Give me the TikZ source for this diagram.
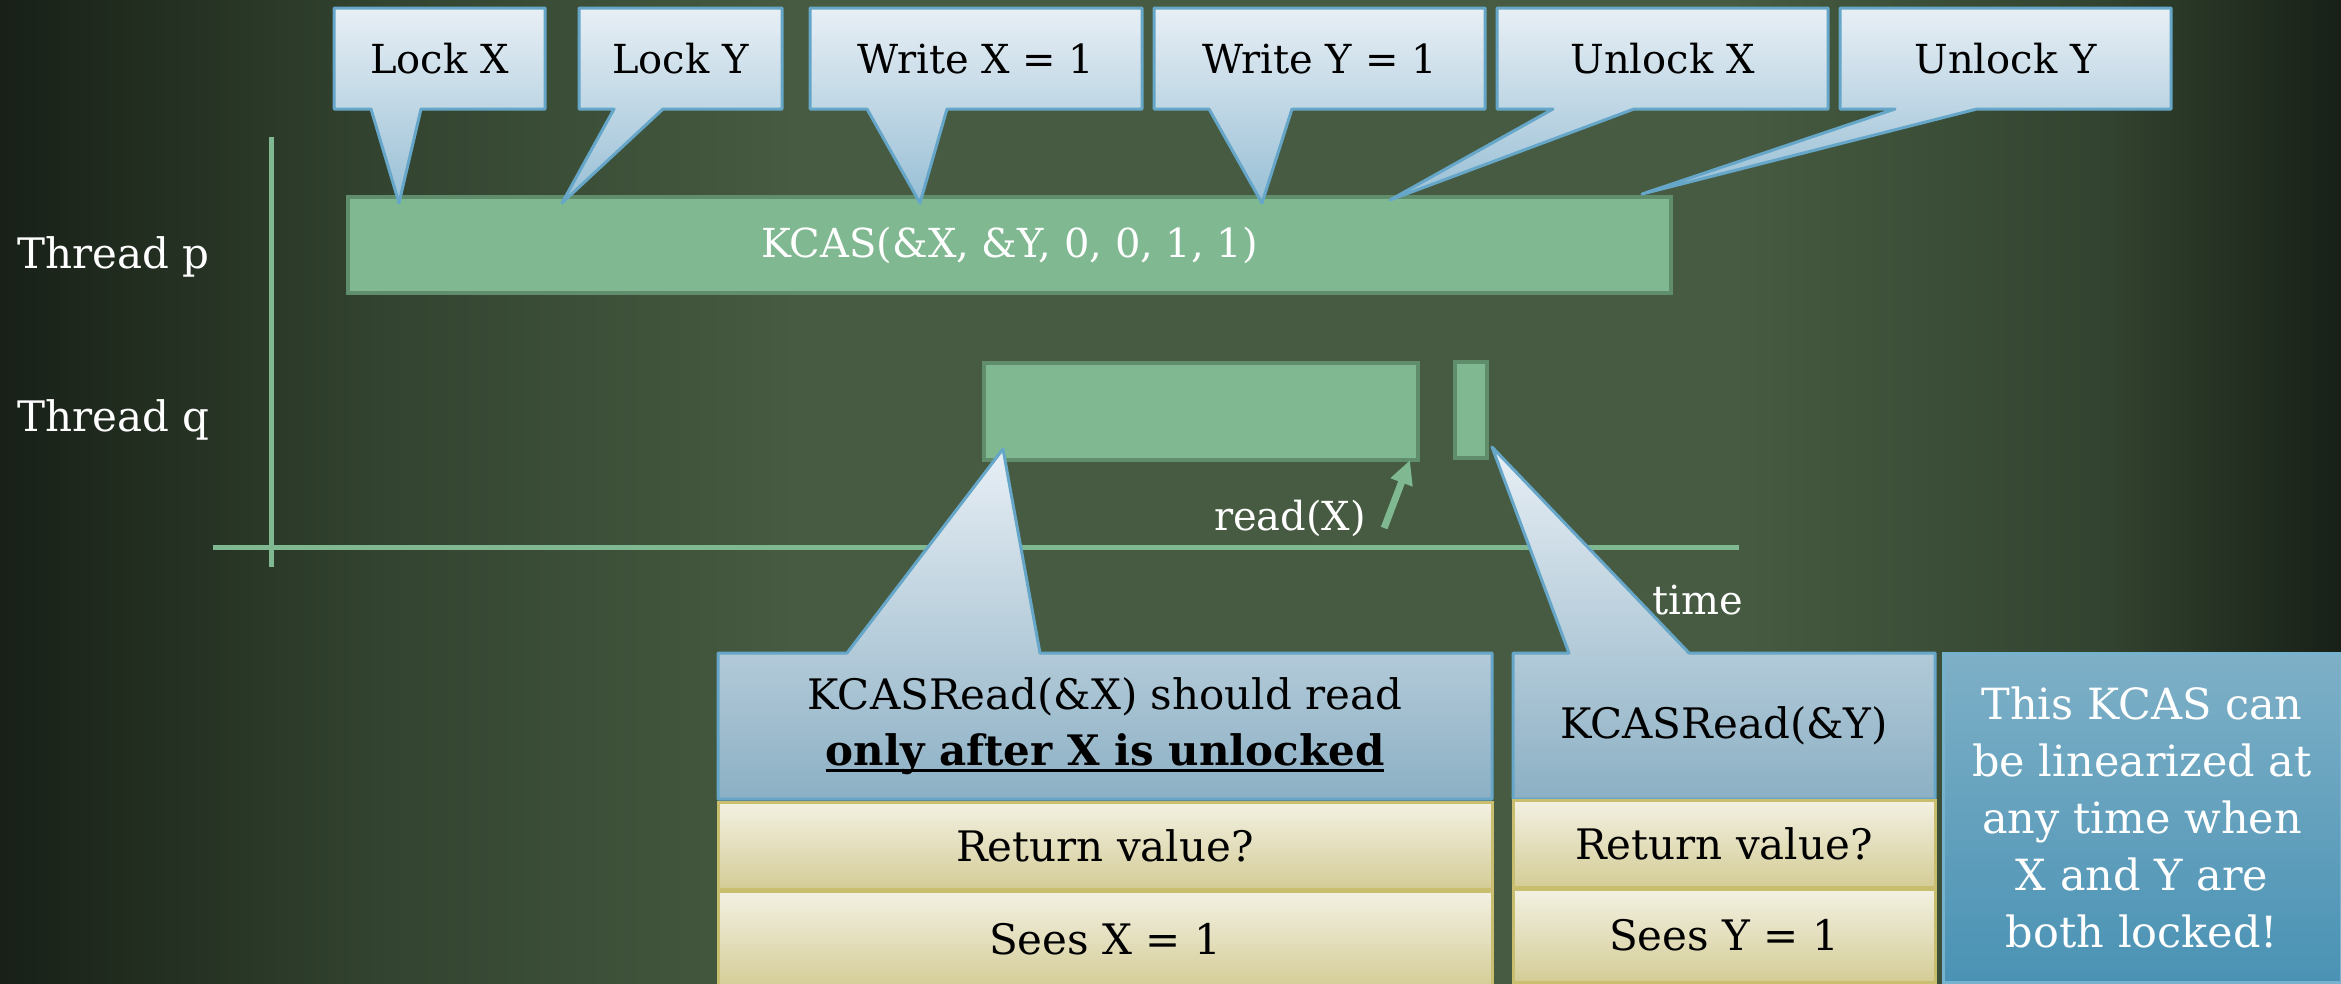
\documentclass[tikz,border=0pt]{standalone}
\usepackage{fontspec}
\setmainfont{DejaVu Serif}
\usetikzlibrary{positioning,arrows.meta,calc,backgrounds}

\definecolor{bgedge}{RGB}{24,32,23}
\definecolor{bgside}{RGB}{50,67,47}
\definecolor{bgmid}{RGB}{70,91,65}
\definecolor{barfill}{RGB}{128,185,145}
\definecolor{barline}{RGB}{96,142,108}
\definecolor{calltop}{RGB}{232,239,245}
\definecolor{callbot}{RGB}{152,191,213}
\definecolor{callline}{RGB}{102,166,200}
\definecolor{rowtop}{RGB}{243,241,227}
\definecolor{rowbot}{RGB}{212,204,150}
\definecolor{rowline}{RGB}{201,190,112}
\definecolor{notetop}{RGB}{126,176,199}
\definecolor{notebot}{RGB}{74,146,180}
\definecolor{noteline}{RGB}{118,178,206}

\pgfdeclarehorizontalshading{vignette}{100bp}{color(0bp)=(bgedge); color(25bp)=(bgedge);
  color(33bp)=(bgside); color(42bp)=(bgmid); color(62bp)=(bgmid); color(70bp)=(bgside);
  color(75bp)=(bgedge); color(100bp)=(bgedge)}

\newcommand{\bigtxt}{\fontsize{40}{56}\selectfont}
\newcommand{\midtxt}{\fontsize{42}{56}\selectfont}
\newcommand{\notetxt}{\fontsize{43}{57}\selectfont}
\newcommand{\thickul}[1]{\setbox0\hbox{#1}\rlap{\rule[-7pt]{\wd0}{3pt}}\box0}
% callout outline, tail leaving the bottom side
\newcommand{\tailbelow}[4]{%
  \draw[topcall] (#1.north west) -- (#1.north east) -- (#1.south east)
    -- ($(#1.south west)+(#3,0)$) -- (#4) -- ($(#1.south west)+(#2,0)$)
    -- (#1.south west) -- cycle;}
% callout outline, tail leaving the top side
\newcommand{\tailabove}[4]{%
  \draw[botcall] (#1.south west) -- (#1.north west) -- ($(#1.north west)+(#2,0)$)
    -- (#4) -- ($(#1.north west)+(#3,0)$) -- (#1.north east)
    -- (#1.south east) -- cycle;}

\begin{document}
\begin{tikzpicture}[x=1pt, y=-1pt,
  callbox/.style={anchor=north west, minimum height=101, inner sep=0, outer sep=0, font=\bigtxt},
  topcall/.style={draw=callline, line width=3pt, line join=round, top color=calltop, bottom color=callbot},
  botcall/.style={draw=callline, line width=3pt, line join=round, top color=calltop, bottom color=callbot!92!black},
  bar/.style={anchor=north west, fill=barfill, draw=barline, line width=4pt, inner sep=0, outer sep=0},
  axis/.style={barfill, line width=5pt},
  lbl/.style={text=white, font=\bigtxt, inner sep=0},
  rowbox/.style={top color=rowtop, bottom color=rowbot, draw=rowline, line width=3pt,
    inner sep=0, outer sep=0, font=\midtxt},
  notebox/.style={anchor=north west, top color=notetop, bottom color=notebot, draw=noteline,
    line width=3pt, inner sep=0, outer sep=0, text=white, align=center, font=\notetxt},
  readarrow/.style={barfill, line width=7pt, -{Triangle[length=24pt,width=22pt]}}
]
\useasboundingbox (0,0) rectangle (2341,983);

% steps of the KCAS
\node[callbox, minimum width=211] (lockX) at (334,8) {Lock X};
\node[callbox, minimum width=203, right=34pt of lockX] (lockY) {Lock Y};
\node[callbox, minimum width=332, right=28pt of lockY] (writeX) {Write X = 1};
\node[callbox, minimum width=331, right=12pt of writeX] (writeY) {Write Y = 1};
\node[callbox, minimum width=331, right=12pt of writeY] (unlockX) {Unlock X};
\node[callbox, minimum width=331, right=12pt of unlockX] (unlockY) {Unlock Y};
\coordinate (tipLX) at (399,203);
\coordinate (tipLY) at (562,203);
\coordinate (tipWX) at (920,203);
\coordinate (tipWY) at (1262,203);
\coordinate (tipUX) at (1390,200);
\coordinate (tipUY) at (1642,194);

% reads of thread q
\node[callbox, minimum width=774, minimum height=146, align=center, font=\midtxt] (readXnote) at (718,653)
  {KCASRead(\&X) should read\\\thickul{\textbf{only after X is unlocked}}};
\node[callbox, minimum width=422, minimum height=146, font=\midtxt, right=21pt of readXnote] (readYnote) {KCASRead(\&Y)};
\coordinate (tipRX) at (1003,449);
\coordinate (tipRY) at (1492,447);
\node[rowbox, minimum width=774, minimum height=87, below=3pt of readXnote] (retX) {Return value?};
\node[rowbox, minimum width=774, minimum height=97, below=2pt of retX] (seeX) {Sees X = 1};
\node[rowbox, minimum width=422, minimum height=87, below=1pt of readYnote] (retY) {Return value?};
\node[rowbox, minimum width=422, minimum height=93, below=2pt of retY] (seeY) {Sees Y = 1};
\node[notebox, minimum width=398, minimum height=329] (kcasnote) at (1943,653)
  {This KCAS can\\be linearized at\\any time when\\X and Y are\\both locked!};

% threads and time axis
\node[lbl, anchor=west, font=\midtxt] (thp) at (17,257) {Thread p};
\node[lbl, anchor=west, font=\midtxt] (thq) at (17,420) {Thread q};
\node[lbl] (readlbl) at (1290,518) {read(X)};
\node[lbl] (timelbl) at (1698,600) {time};
\coordinate (vtop) at (271,137);
\coordinate (vbot) at (271,567);
\coordinate (hleft) at (213,547);
\coordinate (hright) at (1739,547);

\begin{scope}[on background layer]
\shade[shading=vignette] (0,0) rectangle (2341,983);
\draw[axis] (vtop) -- (vbot);
\draw[axis] (hleft) -- (hright);
\node[bar, minimum width=1323, minimum height=96, text=white, font=\bigtxt] (kcas) at (348,197)
  {KCAS(\&X, \&Y, 0, 0, 1, 1)};
\node[bar, minimum width=434, minimum height=97] (qread) at (984,363) {};
\node[bar, minimum width=32, minimum height=96] (qreadY) at (1455,362) {};
\tailbelow{lockX}{37}{87}{tipLX}
\tailbelow{lockY}{35}{84}{tipLY}
\tailbelow{writeX}{57}{137}{tipWX}
\tailbelow{writeY}{55}{138}{tipWY}
\tailbelow{unlockX}{56}{137}{tipUX}
\tailbelow{unlockY}{55}{137}{tipUY}
\tailabove{readXnote}{129}{322}{tipRX}
\tailabove{readYnote}{56}{176}{tipRY}
\end{scope}
\draw[readarrow] ($(readlbl.east)+(18,10)$) -- ($(qread.south east)+(-8,0)$);
\end{tikzpicture}
\end{document}
